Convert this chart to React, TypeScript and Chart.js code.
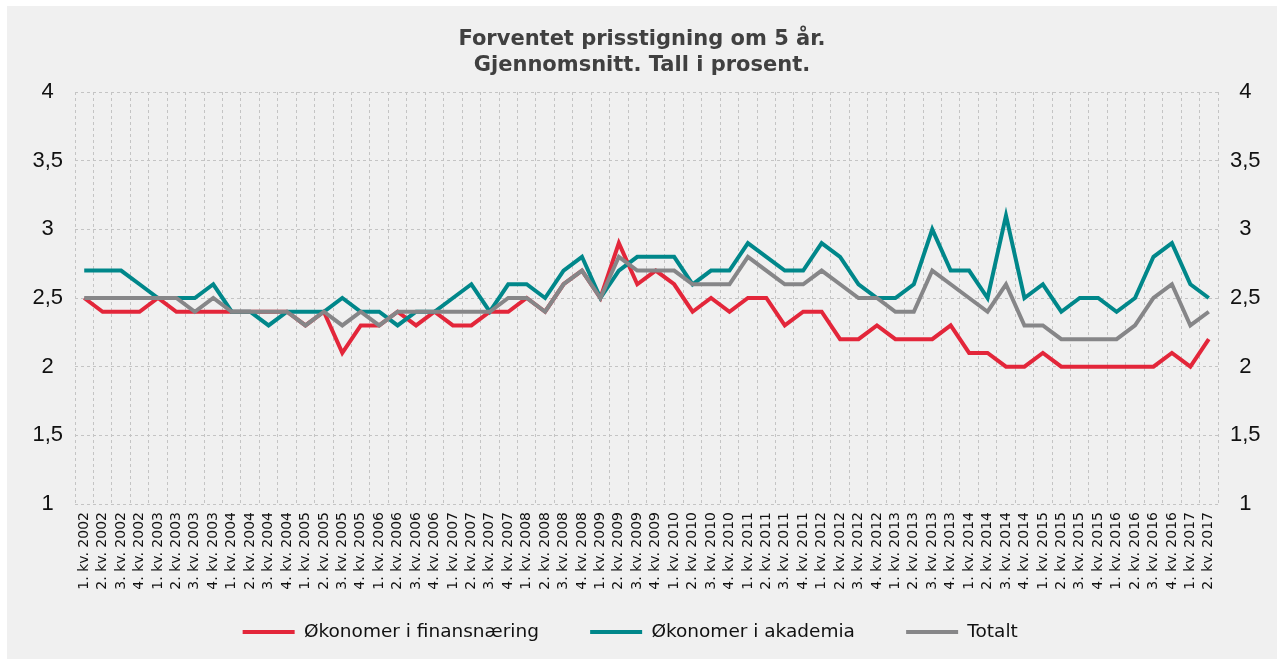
import React, { useEffect, useRef } from "react";
import { Chart, registerables } from "chart.js";

Chart.register(...registerables);

const categories: string[] = [
  "1. kv. 2002", "2. kv. 2002", "3. kv. 2002", "4. kv. 2002",
  "1. kv. 2003", "2. kv. 2003", "3. kv. 2003", "4. kv. 2003",
  "1. kv. 2004", "2. kv. 2004", "3. kv. 2004", "4. kv. 2004",
  "1. kv. 2005", "2. kv. 2005", "3. kv. 2005", "4. kv. 2005",
  "1. kv. 2006", "2. kv. 2006", "3. kv. 2006", "4. kv. 2006",
  "1. kv. 2007", "2. kv. 2007", "3. kv. 2007", "4. kv. 2007",
  "1. kv. 2008", "2. kv. 2008", "3. kv. 2008", "4. kv. 2008",
  "1. kv. 2009", "2. kv. 2009", "3. kv. 2009", "4. kv. 2009",
  "1. kv. 2010", "2. kv. 2010", "3. kv. 2010", "4. kv. 2010",
  "1. kv. 2011", "2. kv. 2011", "3. kv. 2011", "4. kv. 2011",
  "1. kv. 2012", "2. kv. 2012", "3. kv. 2012", "4. kv. 2012",
  "1. kv. 2013", "2. kv. 2013", "3. kv. 2013", "4. kv. 2013",
  "1. kv. 2014", "2. kv. 2014", "3. kv. 2014", "4. kv. 2014",
  "1. kv. 2015", "2. kv. 2015", "3. kv. 2015", "4. kv. 2015",
  "1. kv. 2016", "2. kv. 2016", "3. kv. 2016", "4. kv. 2016",
  "1. kv. 2017", "2. kv. 2017",
];

const finansnaering: number[] = [
  2.5, 2.4, 2.4, 2.4, 2.5, 2.4, 2.4, 2.4, 2.4, 2.4, 2.4, 2.4,
  2.3, 2.4, 2.1, 2.3, 2.3, 2.4, 2.3, 2.4, 2.3, 2.3, 2.4, 2.4,
  2.5, 2.4, 2.6, 2.7, 2.5, 2.9, 2.6, 2.7, 2.6, 2.4, 2.5, 2.4,
  2.5, 2.5, 2.3, 2.4, 2.4, 2.2, 2.2, 2.3, 2.2, 2.2, 2.2, 2.3,
  2.1, 2.1, 2.0, 2.0, 2.1, 2.0, 2.0, 2.0, 2.0, 2.0, 2.0, 2.1,
  2.0, 2.2,
];

const akademia: number[] = [
  2.7, 2.7, 2.7, 2.6, 2.5, 2.5, 2.5, 2.6, 2.4, 2.4, 2.3, 2.4,
  2.4, 2.4, 2.5, 2.4, 2.4, 2.3, 2.4, 2.4, 2.5, 2.6, 2.4, 2.6,
  2.6, 2.5, 2.7, 2.8, 2.5, 2.7, 2.8, 2.8, 2.8, 2.6, 2.7, 2.7,
  2.9, 2.8, 2.7, 2.7, 2.9, 2.8, 2.6, 2.5, 2.5, 2.6, 3.0, 2.7,
  2.7, 2.5, 3.1, 2.5, 2.6, 2.4, 2.5, 2.5, 2.4, 2.5, 2.8, 2.9,
  2.6, 2.5,
];

const totalt: number[] = [
  2.5, 2.5, 2.5, 2.5, 2.5, 2.5, 2.4, 2.5, 2.4, 2.4, 2.4, 2.4,
  2.3, 2.4, 2.3, 2.4, 2.3, 2.4, 2.4, 2.4, 2.4, 2.4, 2.4, 2.5,
  2.5, 2.4, 2.6, 2.7, 2.5, 2.8, 2.7, 2.7, 2.7, 2.6, 2.6, 2.6,
  2.8, 2.7, 2.6, 2.6, 2.7, 2.6, 2.5, 2.5, 2.4, 2.4, 2.7, 2.6,
  2.5, 2.4, 2.6, 2.3, 2.3, 2.2, 2.2, 2.2, 2.2, 2.3, 2.5, 2.6,
  2.3, 2.4,
];

const seriesNames: string[] = ["Økonomer i finansnæring", "Økonomer i akademia", "Totalt"];
const seriesColors: string[] = ["#e3263a", "#00878a", "#868688"];
const titleLines: string[] = ["Forventet prisstigning om 5 år.", "Gjennomsnitt. Tall i prosent."];
// extra spacing after each legend entry (number of trailing spaces)
const legendGaps: number[] = [7, 7, 4];

const DEJAVU = "'DejaVu Sans', Verdana, sans-serif";

export default function App() {
  const canvasRef = useRef<HTMLCanvasElement | null>(null);

  useEffect(() => {
    if (!canvasRef.current) return;
    const fmt = (v: any) => String(v).replace(".", ",");
    const yTicks = {
      stepSize: 0.5,
      color: "#111111",
      font: { family: "'Liberation Sans', Arial, sans-serif", size: 22 },
      padding: 12,
      crossAlign: "center" as const,
      callback: fmt,
    };
    const chart = new Chart(canvasRef.current, {
      type: "line",
      data: {
        labels: categories,
        datasets: [finansnaering, akademia, totalt].map((d, i) => ({
          label: seriesNames[i],
          data: d,
          borderColor: seriesColors[i],
          backgroundColor: seriesColors[i],
          borderWidth: 4,
          pointRadius: 0,
          tension: 0,
          fill: false,
          order: 2 - i,
          yAxisID: "y",
        })),
      },
      options: {
        animation: false,
        responsive: false,
        maintainAspectRatio: false,
        layout: { padding: { top: 0, bottom: 7.75, left: 0, right: 0 } },
        plugins: {
          title: {
            display: true,
            text: titleLines,
            color: "#404040",
            font: { family: DEJAVU, size: 21, weight: "bold", lineHeight: 26 / 21 },
            padding: { top: 21, bottom: 13 },
          },
          legend: {
            position: "bottom",
            labels: {
              boxWidth: 52,
              boxHeight: 4,
              padding: 10,
              color: "#111111",
              font: { family: DEJAVU, size: 18.5 },
              generateLabels: (c: any) => {
                const items = Chart.defaults.plugins.legend.labels.generateLabels(c);
                items.sort((a: any, b: any) => a.datasetIndex - b.datasetIndex);
                return items.map((it: any) => ({
                  ...it,
                  text: it.text + "\u00a0".repeat(legendGaps[it.datasetIndex]),
                  lineWidth: 0,
                }));
              },
            },
          },
          tooltip: { enabled: false },
        },
        scales: {
          x: {
            offset: true,
            grid: { offset: true, color: "#c4c4c4", drawTicks: false, lineWidth: 1 },
            border: { display: false, dash: [3, 3] },
            ticks: {
              autoSkip: false,
              minRotation: 90,
              maxRotation: 90,
              padding: 8,
              color: "#111111",
              font: { family: DEJAVU, size: 14 },
            },
            afterFit: (s: any) => { s.height = 108.75; },
          },
          y: {
            position: "left",
            min: 1,
            max: 4,
            ticks: yTicks,
            grid: { color: "#c4c4c4", drawTicks: false },
            border: { display: false, dash: [3, 3] },
            afterFit: (s: any) => { s.width = 68; },
          },
          y1: {
            position: "right",
            min: 1,
            max: 4,
            ticks: yTicks,
            grid: { display: false, drawTicks: false },
            border: { display: false },
            afterFit: (s: any) => { s.width = 59; },
          },
        },
      },
    });
    return () => chart.destroy();
  }, []);

  return (
    <div
      style={{
        position: "fixed",
        left: 7,
        top: 6,
        width: 1270,
        height: 653,
        background: "#f0f0f0",
      }}
    >
      <canvas ref={canvasRef} width={1270} height={653} style={{ display: "block" }} />
    </div>
  );
}
